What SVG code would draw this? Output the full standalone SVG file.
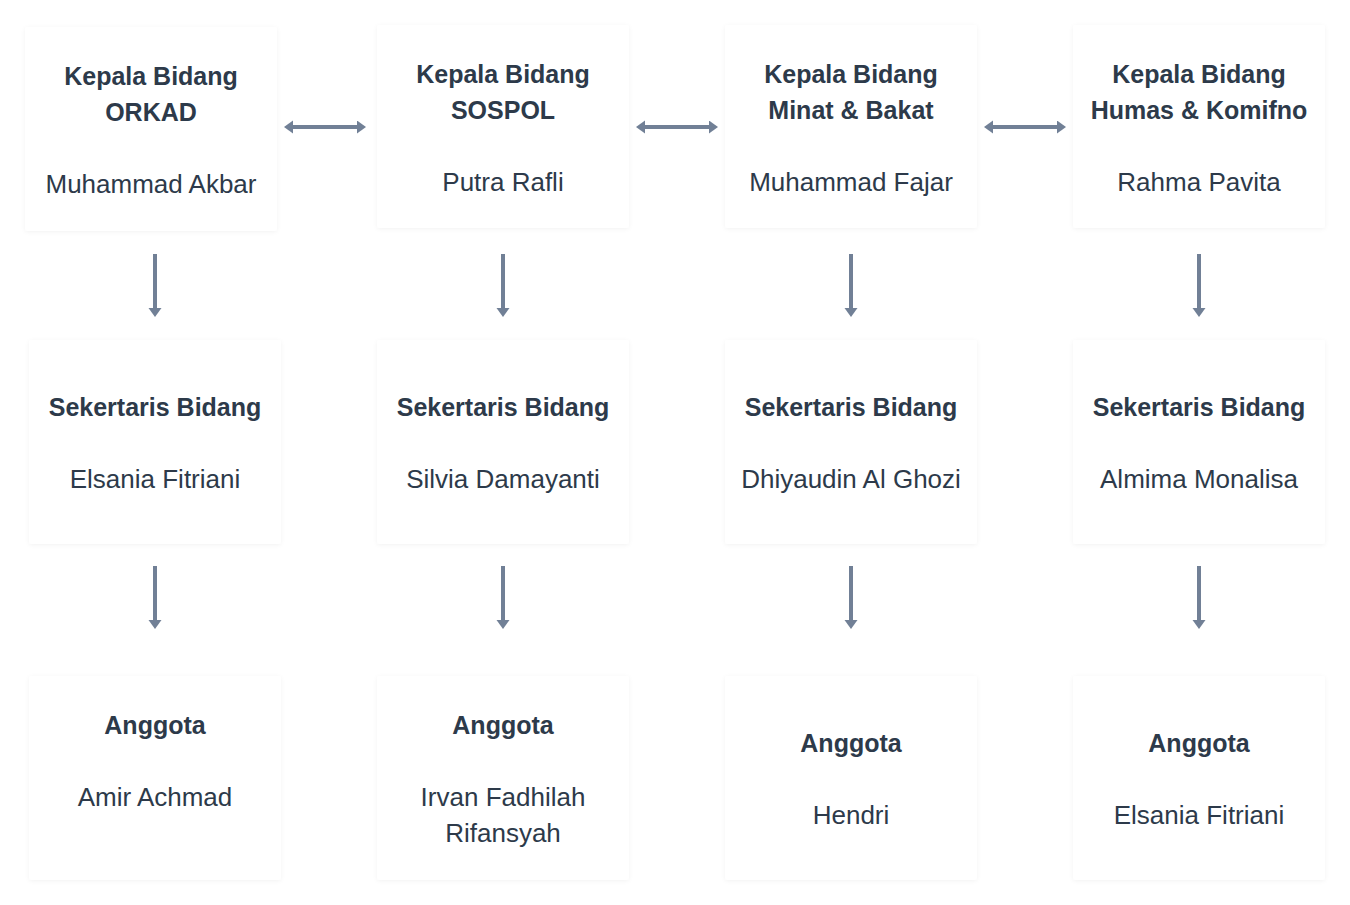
<svg xmlns="http://www.w3.org/2000/svg" width="1350" height="905" viewBox="0 0 1350 905">
<defs>
<filter id="sh" x="-10%" y="-10%" width="120%" height="120%">
<feDropShadow dx="0" dy="1" stdDeviation="2" flood-color="#000" flood-opacity="0.05"/>
</filter>
<marker id="ah" markerUnits="userSpaceOnUse" markerWidth="10" markerHeight="14" refX="0" refY="6.5" orient="auto-start-reverse">
<path d="M0,0 L9,6.5 L0,13 z" fill="#718096"/>
</marker>
</defs>
<style>
.card{fill:#ffffff;filter:url(#sh);}
.t{font-family:"Liberation Sans",Arial,sans-serif;font-size:26px;fill:#2d3a4a;text-anchor:middle;}
.b{font-weight:bold;font-size:25px;}
.c{stroke:#718096;stroke-width:4;fill:none;}
</style>
<rect width="1350" height="905" fill="#ffffff"/>

<g id="connectors">
<line class="c" x1="293" y1="127" x2="357" y2="127" marker-start="url(#ah)" marker-end="url(#ah)"/>
<line class="c" x1="645" y1="127" x2="709" y2="127" marker-start="url(#ah)" marker-end="url(#ah)"/>
<line class="c" x1="993" y1="127" x2="1057" y2="127" marker-start="url(#ah)" marker-end="url(#ah)"/>
<line class="c" x1="155" y1="254" x2="155" y2="308" marker-end="url(#ah)"/>
<line class="c" x1="503" y1="254" x2="503" y2="308" marker-end="url(#ah)"/>
<line class="c" x1="851" y1="254" x2="851" y2="308" marker-end="url(#ah)"/>
<line class="c" x1="1199" y1="254" x2="1199" y2="308" marker-end="url(#ah)"/>
<line class="c" x1="155" y1="566" x2="155" y2="620" marker-end="url(#ah)"/>
<line class="c" x1="503" y1="566" x2="503" y2="620" marker-end="url(#ah)"/>
<line class="c" x1="851" y1="566" x2="851" y2="620" marker-end="url(#ah)"/>
<line class="c" x1="1199" y1="566" x2="1199" y2="620" marker-end="url(#ah)"/>
</g>

<g id="kepala-orkad">
<rect class="card" x="25" y="27" width="252" height="204" rx="3"/>
<text class="t b" x="151" y="85">Kepala Bidang</text>
<text class="t b" x="151" y="121">ORKAD</text>
<text class="t" x="151" y="193">Muhammad Akbar</text>
</g>
<g id="kepala-sospol">
<rect class="card" x="377" y="25" width="252" height="203" rx="3"/>
<text class="t b" x="503" y="83">Kepala Bidang</text>
<text class="t b" x="503" y="119">SOSPOL</text>
<text class="t" x="503" y="191">Putra Rafli</text>
</g>
<g id="kepala-minat">
<rect class="card" x="725" y="25" width="252" height="203" rx="3"/>
<text class="t b" x="851" y="83">Kepala Bidang</text>
<text class="t b" x="851" y="119">Minat &amp; Bakat</text>
<text class="t" x="851" y="191">Muhammad Fajar</text>
</g>
<g id="kepala-humas">
<rect class="card" x="1073" y="25" width="252" height="203" rx="3"/>
<text class="t b" x="1199" y="83">Kepala Bidang</text>
<text class="t b" x="1199" y="119">Humas &amp; Komifno</text>
<text class="t" x="1199" y="191">Rahma Pavita</text>
</g>

<g id="sek-orkad">
<rect class="card" x="29" y="340" width="252" height="204" rx="3"/>
<text class="t b" x="155" y="416">Sekertaris Bidang</text>
<text class="t" x="155" y="488">Elsania Fitriani</text>
</g>
<g id="sek-sospol">
<rect class="card" x="377" y="340" width="252" height="204" rx="3"/>
<text class="t b" x="503" y="416">Sekertaris Bidang</text>
<text class="t" x="503" y="488">Silvia Damayanti</text>
</g>
<g id="sek-minat">
<rect class="card" x="725" y="340" width="252" height="204" rx="3"/>
<text class="t b" x="851" y="416">Sekertaris Bidang</text>
<text class="t" x="851" y="488">Dhiyaudin Al Ghozi</text>
</g>
<g id="sek-humas">
<rect class="card" x="1073" y="340" width="252" height="204" rx="3"/>
<text class="t b" x="1199" y="416">Sekertaris Bidang</text>
<text class="t" x="1199" y="488">Almima Monalisa</text>
</g>

<g id="anggota-orkad">
<rect class="card" x="29" y="676" width="252" height="204" rx="3"/>
<text class="t b" x="155" y="734">Anggota</text>
<text class="t" x="155" y="806">Amir Achmad</text>
</g>
<g id="anggota-sospol">
<rect class="card" x="377" y="676" width="252" height="204" rx="3"/>
<text class="t b" x="503" y="734">Anggota</text>
<text class="t" x="503" y="806">Irvan Fadhilah</text>
<text class="t" x="503" y="842">Rifansyah</text>
</g>
<g id="anggota-minat">
<rect class="card" x="725" y="676" width="252" height="204" rx="3"/>
<text class="t b" x="851" y="752">Anggota</text>
<text class="t" x="851" y="824">Hendri</text>
</g>
<g id="anggota-humas">
<rect class="card" x="1073" y="676" width="252" height="204" rx="3"/>
<text class="t b" x="1199" y="752">Anggota</text>
<text class="t" x="1199" y="824">Elsania Fitriani</text>
</g>
</svg>
